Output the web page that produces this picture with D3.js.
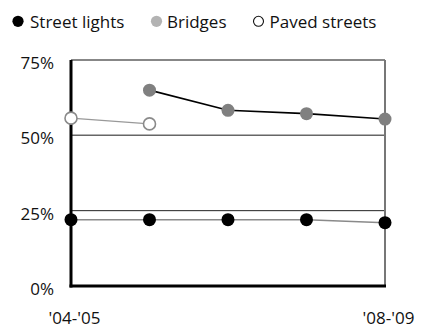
<!DOCTYPE html>
<html>
<head>
<meta charset="utf-8">
<script src="https://cdn.jsdelivr.net/npm/d3@7"></script>
<style>
  html, body { margin: 0; padding: 0; background: #fff; }
  svg { display: block; font-family: "Open Sans", "Noto Sans", sans-serif; }
</style>
</head>
<body>
<svg id="chart" width="421" height="331"></svg>
<script>
// Fiscal years along the x axis
const years = ["'04-'05", "'05-'06", "'06-'07", "'07-'08", "'08-'09"];
// Shares (%) per fiscal year; null where no figure was reported
const streetLights = [22, 22, 22, 22, 21];
const bridges = [null, 65, 58.3, 57.2, 55.4];
const pavedStreets = [55.7, 53.8, null, null, null];
// Axis ticks
const yTicks = [0, 25, 50, 75];
const xTickLabels = ["'04-'05", "'08-'09"];

const svg = d3.select("#chart");
const plot = { left: 71, right: 385, top: 60, bottom: 286 };
const labelFont = "\"Open Sans\", sans-serif";

const x = d3.scalePoint().domain(years).range([plot.left, plot.right]);
const y = d3.scaleLinear().domain([0, 75]).range([plot.bottom, plot.top]);

// Horizontal reference lines
svg.append("line").attr("x1", plot.left).attr("x2", plot.right)
  .attr("y1", y(75)).attr("y2", y(75)).attr("stroke", "#111").attr("stroke-width", 1.2);
svg.append("line").attr("x1", plot.left).attr("x2", plot.right)
  .attr("y1", y(50)).attr("y2", y(50)).attr("stroke", "#666").attr("stroke-width", 1.5);
svg.append("line").attr("x1", plot.left).attr("x2", plot.right)
  .attr("y1", y(25)).attr("y2", y(25)).attr("stroke", "#222").attr("stroke-width", 1);

// Right frame edge
svg.append("line").attr("x1", plot.right).attr("x2", plot.right)
  .attr("y1", plot.top).attr("y2", plot.bottom).attr("stroke", "#777").attr("stroke-width", 2);

// Y tick labels
const yAxis = d3.axisLeft(y).tickValues(yTicks).tickFormat(d => d + "%").tickSize(0).tickPadding(17);
const gy = svg.append("g").attr("transform", `translate(${plot.left},3)`).call(yAxis);
gy.select(".domain").remove();
gy.selectAll("text").attr("font-size", 17).attr("fill", "#111").attr("font-family", labelFont);

// X tick labels
const xAxis = d3.axisBottom(x).tickValues(xTickLabels).tickSize(0).tickPadding(26);
const gx = svg.append("g").attr("transform", `translate(3,${plot.bottom})`).call(xAxis);
gx.select(".domain").remove();
gx.selectAll("text").attr("font-size", 17).attr("fill", "#111").attr("font-family", labelFont);

// Series
const series = [
  { name: "Street lights", values: streetLights, line: "#8a8a8a", lw: 1.6, fill: "#000", stroke: "#000", sw: 0 },
  { name: "Bridges", values: bridges, line: "#000", lw: 1.6, fill: "#808080", stroke: "#808080", sw: 0 },
  { name: "Paved streets", values: pavedStreets, line: "#999", lw: 1.3, fill: "#fff", stroke: "#8a8a8a", sw: 1.6 }
];

const lineGen = d3.line()
  .defined(d => d.v != null)
  .x(d => x(d.year))
  .y(d => y(d.v));

series.forEach(s => {
  const pts = years.map((yr, i) => ({ year: yr, v: s.values[i] }));
  svg.append("path").datum(pts)
    .attr("d", lineGen).attr("fill", "none")
    .attr("stroke", s.line).attr("stroke-width", s.lw);
  s.pts = pts;
});

// Axes drawn over the lines
svg.append("line").attr("x1", plot.left).attr("x2", plot.left)
  .attr("y1", plot.top).attr("y2", plot.bottom + 1.5).attr("stroke", "#000").attr("stroke-width", 3);
svg.append("line").attr("x1", plot.left - 1.5).attr("x2", plot.right + 1)
  .attr("y1", plot.bottom).attr("y2", plot.bottom).attr("stroke", "#000").attr("stroke-width", 3);

series.forEach(s => {
  svg.append("g").selectAll("circle")
    .data(s.pts.filter(d => d.v != null))
    .join("circle")
    .attr("cx", d => x(d.year)).attr("cy", d => y(d.v))
    .attr("r", s.sw ? 6 : 6.5)
    .attr("fill", s.fill).attr("stroke", s.stroke).attr("stroke-width", s.sw);
});

// Legend
const legend = [
  { name: "Street lights", cx: 18, tx: 30, fill: "#000", stroke: "none", sw: 0 },
  { name: "Bridges", cx: 156.5, tx: 167, fill: "#b3b3b3", stroke: "none", sw: 0 },
  { name: "Paved streets", cx: 258.5, tx: 269.5, fill: "#fff", stroke: "#111", sw: 1.1 }
];
const lg = svg.append("g");
legend.forEach(l => {
  lg.append("circle").attr("cx", l.cx).attr("cy", 21.3).attr("r", l.sw ? 5 : 5.6)
    .attr("fill", l.fill).attr("stroke", l.stroke).attr("stroke-width", l.sw);
  lg.append("text").attr("x", l.tx).attr("y", 27.5).attr("font-size", 17)
    .attr("fill", "#111").text(l.name);
});
</script>
</body>
</html>
